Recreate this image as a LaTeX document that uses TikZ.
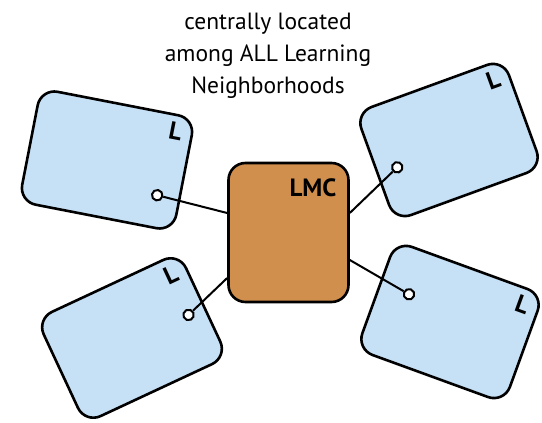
\documentclass[tikz,border=0pt]{standalone}
\usepackage{fontspec}
\setmainfont{PT Sans}
\definecolor{nbhdblue}{HTML}{C6E1F6}
\definecolor{lmcorange}{HTML}{D18F4E}
\tikzset{
  nbhd/.style={draw, line width=2.6pt, fill=nbhdblue, rounded corners=17pt,
    minimum width=157pt, minimum height=115pt, inner sep=0pt},
  nbhdlabel/.style={font=\bfseries\fontsize{25}{25}\selectfont, inner sep=0pt},
  port/.style={circle, draw, line width=2pt, fill=white, inner sep=0pt, minimum size=10.5pt},
  link/.style={line width=2pt}
}
\begin{document}
\begin{tikzpicture}[x=1pt,y=1pt]
\useasboundingbox (0,0) rectangle (542,423);

% caption above the picture
    \node[align=center, font=\fontsize{23.5}{32}\selectfont] (caption) at (268,367)
      {centrally located\\among ALL Learning\\Neighborhoods};

% learning neighborhood, upper left
    \begin{scope}[shift={(107,263)}, rotate=-11, transform shape]
      \node[nbhd] (nbA) at (0,0) {};
      \node[nbhdlabel] at (62,41) {L};
      \node[port] (portA) at (56,-25) {};
    \end{scope}

% learning neighborhood, upper right
    \begin{scope}[shift={(449,283)}, rotate=20, transform shape]
      \node[nbhd] (nbB) at (0,0) {};
      \node[nbhdlabel] at (62,41) {L};
      \node[port] (portB) at (-58,-8) {};
    \end{scope}

% learning neighborhood, lower left
    \begin{scope}[shift={(132,85)}, rotate=25, transform shape]
      \node[nbhd] (nbC) at (0,0) {};
      \node[nbhdlabel] at (62,41) {L};
      \node[port] (portC) at (61,-3) {};
    \end{scope}

% learning neighborhood, lower right
    \begin{scope}[shift={(450,101)}, rotate=-20, transform shape]
      \node[nbhd] (nbD) at (0,0) {};
      \node[nbhdlabel] at (62,41) {L};
      \node[port] (portD) at (-48,12) {};
    \end{scope}

% the LMC in the middle
    \node[draw, line width=2.6pt, fill=lmcorange, rounded corners=17pt,
      minimum width=120pt, minimum height=139pt] (lmc) at (288.5,190.5) {};
    \node[font=\bfseries\fontsize{25}{25}\selectfont] (lmclabel) at (313,235) {LMC};

% links from each neighborhood to the LMC
    \draw[link] (portA) -- ([yshift=19.5pt]lmc.west);
    \draw[link] (portB) -- ([yshift=19.5pt]lmc.east);
    \draw[link] (portC) -- ([yshift=-45.5pt]lmc.west);
    \draw[link] (portD) -- ([yshift=-27.5pt]lmc.east);

\end{tikzpicture}
\end{document}
